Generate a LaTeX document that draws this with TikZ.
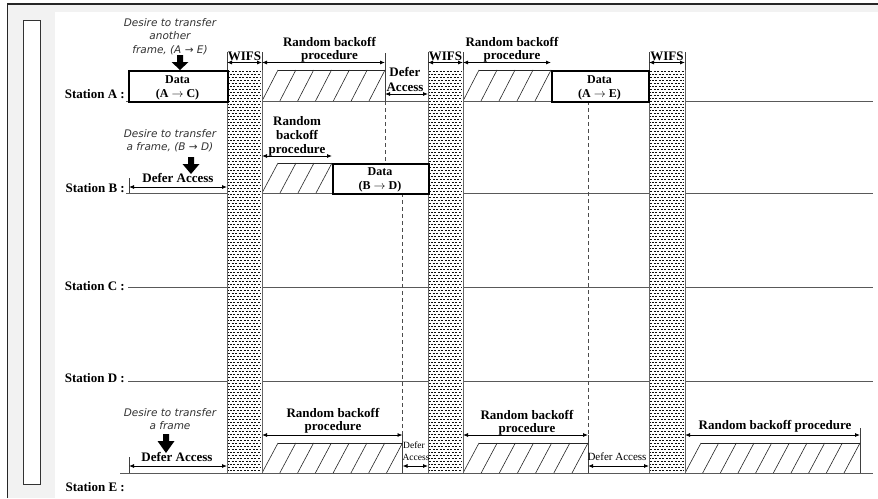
\documentclass[tikz,border=0pt]{standalone}
\usepackage{fontspec}
\setmainfont{Liberation Serif}
\newfontfamily\desfont[ItalicFont={DejaVu Sans Oblique}]{DejaVu Sans}
\usetikzlibrary{arrows.meta}
\tikzset{
  lbl/.style={font=\fontsize{13}{13}\selectfont\bfseries, inner sep=0pt},
  datalbl/.style={font=\fontsize{12}{12}\selectfont\bfseries, inner sep=0pt},
  smalllbl/.style={font=\fontsize{11}{11}\selectfont, inner sep=0pt},
  tinylbl/.style={font=\fontsize{9.5}{9.5}\selectfont, inner sep=0pt},
  deslbl/.style={font=\fontsize{10.5}{10.5}\selectfont\desfont\itshape, inner sep=0pt, text=black!80},
  dimarrow/.style={line width=0.8pt, {Latex[length=5pt,width=4pt]}-{Latex[length=5pt,width=4pt]}},
  tickline/.style={line width=0.8pt, black!75},
  stline/.style={line width=0.9pt, black!65},
  databox/.style={draw, line width=2pt, fill=white, inner sep=0pt},
  hatchline/.style={line width=0.6pt, black!85},
  dashl/.style={line width=0.7pt, black!70, dash pattern=on 4pt off 3pt},
  colpat/.style={line width=1pt, black!95, dash pattern=on 2.2pt off 1.3pt},
  coledge/.style={line width=0.8pt, black!60},
  bigarrow/.style={fill=black},
}
\newcommand\dimarr[4]{%
  \coordinate (#1-l) at (#2,#4); \coordinate (#1-r) at (#3,#4);
  \draw[dimarrow] (#1-l) -- (#1-r);}
\newcommand\hatchzone[5]{%
  \pgfmathsetmacro\hs{(#2-#1-16)/#5}%
  \draw[hatchline] (#1+16,#4) -- (#2,#4);
  \foreach \k in {0,...,#5} {\draw[hatchline] ({#1+\k*\hs},#3) -- ({#1+\k*\hs+16},#4);}}
\newcommand\wifscol[3]{%
  \fill[white] (#2,70) rectangle (#3,473);
  \foreach \r in {0,...,133} {%
    \pgfmathsetmacro\yy{71.5+3*\r}\pgfmathsetmacro\ph{mod(\r,2)*1.75}%
    \draw[colpat, dash phase=\ph pt] (#2+1,\yy) -- (#3-1,\yy);}
  \coordinate (#1-tl) at (#2,70); \coordinate (#1-bl) at (#2,473);
  \coordinate (#1-tr) at (#3,70); \coordinate (#1-br) at (#3,473);
  \draw[coledge] (#1-tl) -- (#1-bl) (#1-tr) -- (#1-br);
  \draw[tickline] (#2,52) -- (#1-tl) (#3,52) -- (#1-tr);
  \node[lbl, anchor=base] (#1-lab) at ({(#2+#3)/2},60) {WIFS};
  \dimarr{#1-arr}{#2}{#3}{62.5}}
\newcommand\bigdown[3]{% x, ytop, ytip
  \fill[bigarrow] (#1-3,#2) -- (#1+3,#2) -- (#1+3,#2+7) -- (#1+8.5,#2+7) -- (#1,#3) -- (#1-8.5,#2+7) -- (#1-3,#2+7) -- cycle;}
\begin{document}
\begin{tikzpicture}[x=1pt,y=-1pt]
\useasboundingbox (0,0) rectangle (878,498);
% background
\fill[black!5] (7,4) rectangle (878,498);
\fill[white] (55,12) rectangle (878,498);
\draw[line width=1.3pt, black!85] (7.5,498) -- (7.5,4) -- (878,4);
\draw[line width=1pt, black!80, fill=white] (23,20) rectangle (40,484);
% station lines
\draw[stline] (126,101) -- (873,101);
\draw[stline] (126,193) -- (873,193);
\draw[stline] (128,287) -- (873,287);
\draw[stline] (128,381) -- (873,381);
\draw[stline] (120,473) -- (873,473);
\node[lbl, anchor=base east] (stA) at (125,98) {Station A :};
\node[lbl, anchor=base east] (stB) at (125,192) {Station B :};
\node[lbl, anchor=base east] (stC) at (125,290.5) {Station C :};
\node[lbl, anchor=base east] (stD) at (125,382.5) {Station D :};
\node[lbl, anchor=base east] (stE) at (125,491) {Station E :};
% dashed guide lines
\draw[tickline] (385,53) -- (385,101);
\draw[dashl] (385,101) -- (385,163);
\draw[dashl] (402.5,193) -- (402.5,435);
\draw[tickline] (402.5,435) -- (402.5,473);
\draw[dashl] (588,101) -- (588,435);
\draw[tickline] (588,435) -- (588,473);
\draw[tickline] (860,428) -- (860,473);
\draw[tickline] (129,178) -- (129,193);
\draw[tickline] (129,457) -- (129,473);
% hatched backoff zones
\hatchzone{262}{385}{101}{70}{6}
\hatchzone{463}{551}{101}{70}{4}
\hatchzone{262}{332}{193}{163}{3}
\hatchzone{262}{402.5}{473}{443}{7}
\hatchzone{463}{588}{473}{443}{6}
\hatchzone{685}{860}{473}{443}{9}
% WIFS columns
\wifscol{w1}{227}{262}
\wifscol{w2}{428}{463}
\wifscol{w3}{649}{685}
% data boxes
\node[databox, anchor=north west, minimum width=99pt, minimum height=31pt] (dAC) at (128,70) {};
\node[datalbl, anchor=base] (dACa) at (177.5,83) {Data};
\node[datalbl, anchor=base] (dACb) at (177.5,97.5) {(A $\rightarrow$ C)};
\node[databox, anchor=north west, minimum width=97pt, minimum height=31pt] (dAE) at (551,70) {};
\node[datalbl, anchor=base] (dAEa) at (599.5,83) {Data};
\node[datalbl, anchor=base] (dAEb) at (599.5,97.5) {(A $\rightarrow$ E)};
\node[databox, anchor=north west, minimum width=96pt, minimum height=30pt] (dBD) at (332,163) {};
\node[datalbl, anchor=base] (dBDa) at (380,175.5) {Data};
\node[datalbl, anchor=base] (dBDb) at (380,189.5) {(B $\rightarrow$ D)};
% desire texts and arrows
\node[deslbl, anchor=base] (desA1) at (170,26) {Desire to transfer};
\node[deslbl, anchor=base] (desA2) at (170,39.5) {another};
\node[deslbl, anchor=base] (desA3) at (170,53) {frame, (A → E)};
\bigdown{180}{55}{70}
\node[deslbl, anchor=base] (desB1) at (170,137) {Desire to transfer};
\node[deslbl, anchor=base] (desB2) at (170,150.5) {a frame, (B → D)};
\bigdown{191}{157}{174}
\node[deslbl, anchor=base] (desE1) at (170,416.5) {Desire to transfer};
\node[deslbl, anchor=base] (desE2) at (170,429.5) {a frame};
\bigdown{166}{434}{453}
% station A annotations
\node[lbl, anchor=base] (rbA1) at (329.5,46) {Random backoff};
\node[lbl, anchor=base] (rbA2) at (329.5,59) {procedure};
\dimarr{rbA}{262}{385}{62.5}
\node[lbl, anchor=base] (dfA1) at (405,76) {Defer};
\node[lbl, anchor=base] (dfA2) at (405,91) {Access};
\dimarr{dfA}{385}{428}{94}
\node[lbl, anchor=base] (rbA3) at (512,46) {Random backoff};
\node[lbl, anchor=base] (rbA4) at (512,59.5) {procedure};
\dimarr{rbAb}{463}{551}{62.5}
% station B annotations
\node[lbl, anchor=base] (rbB1) at (297,125) {Random};
\node[lbl, anchor=base] (rbB2) at (297,139.5) {backoff};
\node[lbl, anchor=base] (rbB3) at (297,153) {procedure};
\dimarr{rbB}{262}{332}{156}
\node[lbl, anchor=base] (dfB) at (178,182) {Defer Access};
\dimarr{dfBa}{129}{227}{187}
% station E annotations
\node[lbl, anchor=base] (dfE) at (177,461) {Defer Access};
\dimarr{dfEa}{129}{227}{466}
\node[lbl, anchor=base] (rbE1) at (333,417.5) {Random backoff};
\node[lbl, anchor=base] (rbE2) at (333,430.5) {procedure};
\dimarr{rbE}{262}{402.5}{435}
\node[tinylbl, anchor=base] (dfE1) at (414,448) {Defer};
\node[tinylbl, anchor=base] (dfE2) at (416,460) {Access};
\dimarr{dfEb}{402.5}{428}{466}
\node[lbl, anchor=base] (rbE3) at (527,419) {Random backoff};
\node[lbl, anchor=base] (rbE4) at (527,432) {procedure};
\dimarr{rbEb}{463}{588}{435}
\node[smalllbl, anchor=base] (dfE3) at (617,460) {Defer Access};
\dimarr{dfEc}{588}{649}{466}
\node[lbl, anchor=base] (rbE5) at (775,429) {Random backoff procedure};
\dimarr{rbEc}{685}{860}{435}
\end{tikzpicture}
\end{document}
